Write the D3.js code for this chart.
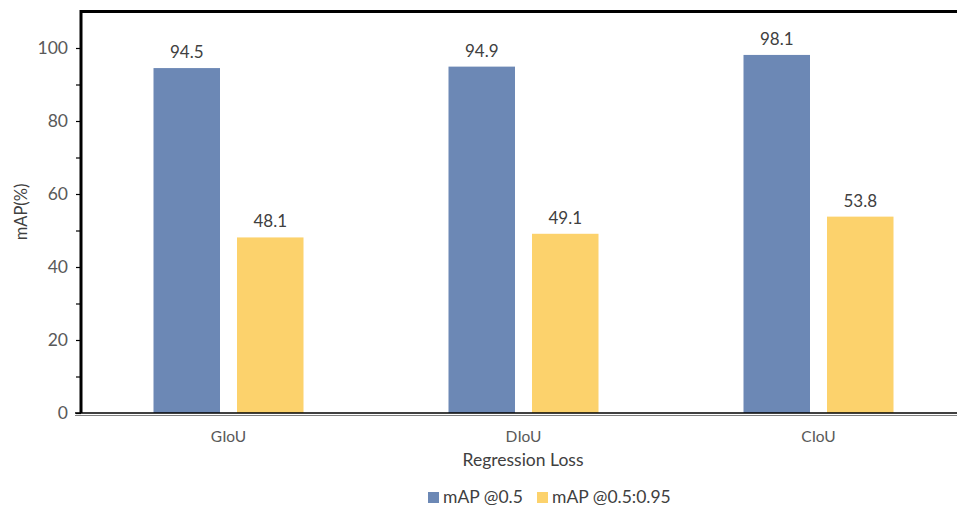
<!DOCTYPE html>
<html>
<head>
<meta charset="utf-8">
<script src="https://cdn.jsdelivr.net/npm/d3@7"></script>
<style>
  html, body { margin: 0; padding: 0; background: #fff; }
  svg { display: block; font-family: Lato, "Open Sans", sans-serif; }
</style>
</head>
<body>
<svg id="chart" width="957" height="506"></svg>
<script>
const categories = ["GIoU", "DIoU", "CIoU"];
const seriesNames = ["mAP @0.5", "mAP @0.5:0.95"];
const map50 = [94.5, 94.9, 98.1];
const map5095 = [48.1, 49.1, 53.8];
const yTicks = [0, 20, 40, 60, 80, 100];
const yMinorTicks = [10, 30, 50, 70, 90];
const colors = ["#6c88b5", "#fcd26c"];

const seriesValues = [map50, map5095];
const svg = d3.select("#chart");

const plotLeft = 81, plotRight = 966, plotTop = 11.5, plotBottom = 413;
const y = d3.scaleLinear().domain([0, 110]).range([plotBottom, plotTop]);
const x0 = d3.scaleBand().domain(categories).range([plotLeft, plotRight]).padding(0);
const bw = x0.bandwidth();
const x1 = d3.scaleBand().domain(seriesNames)
  .range([bw / 2 - 75, bw / 2 + 75]).paddingInner(0.2036).paddingOuter(0);

// bars
const g = svg.append("g");
categories.forEach((c, ci) => {
  seriesNames.forEach((s, si) => {
    const v = seriesValues[si][ci];
    const bx = x0(c) + x1(s);
    g.append("rect")
      .attr("x", bx).attr("y", y(v))
      .attr("width", x1.bandwidth()).attr("height", y(0) - y(v))
      .attr("fill", colors[si]);
    g.append("text")
      .attr("x", bx + x1.bandwidth() / 2).attr("y", y(v) - 10)
      .attr("text-anchor", "middle")
      .attr("font-size", 17).attr("fill", "#404040")
      .text(v.toFixed(1));
  });
});

// top border
svg.append("line").attr("x1", plotLeft).attr("x2", plotRight)
  .attr("y1", y(110)).attr("y2", y(110))
  .attr("stroke", "#000").attr("stroke-width", 3);

// x axis double line
svg.append("line").attr("x1", 75).attr("x2", plotRight)
  .attr("y1", y(0)).attr("y2", y(0))
  .attr("stroke", "#000").attr("stroke-width", 1.5);
svg.append("line").attr("x1", 75).attr("x2", plotRight)
  .attr("y1", y(0) + 2.5).attr("y2", y(0) + 2.5)
  .attr("stroke", "#808080").attr("stroke-width", 1);

// y axis
const yAxis = d3.axisLeft(y).tickValues(yTicks).tickSize(5).tickPadding(8).tickSizeOuter(0);
const ya = svg.append("g").attr("transform", `translate(${plotLeft},0)`).call(yAxis);
ya.select(".domain").attr("stroke", "#000").attr("stroke-width", 3)
  .attr("d", `M0,${y(110) - 1.5}V${y(0)}`);
ya.selectAll(".tick line").attr("stroke", "#000").attr("stroke-width", 1.2);
ya.selectAll(".tick text").attr("font-size", 17.5).attr("fill", "#595959")
  .attr("font-family", "Lato, sans-serif");
const yMinor = d3.axisLeft(y).tickValues(yMinorTicks).tickSize(5).tickFormat("");
const ym = svg.append("g").attr("transform", `translate(${plotLeft},0)`).call(yMinor);
ym.select(".domain").remove();
ym.selectAll(".tick line").attr("stroke", "#000").attr("stroke-width", 1.2);

// x category labels
const xAxis = d3.axisBottom(x0).tickSize(0).tickPadding(0);
const xa = svg.append("g").attr("transform", `translate(0,${plotBottom})`).call(xAxis);
xa.select(".domain").remove();
xa.selectAll(".tick text").attr("font-size", 15.5).attr("fill", "#595959")
  .attr("font-family", "Lato, sans-serif").attr("dy", null).attr("y", 29);

// axis titles
svg.append("text").attr("x", 523).attr("y", 466).attr("text-anchor", "middle")
  .attr("font-size", 17.5).attr("fill", "#404040").text("Regression Loss");
svg.append("text").attr("transform", "translate(27,212) rotate(-90)")
  .attr("text-anchor", "middle").attr("font-size", 16.5).attr("fill", "#404040").text("mAP(%)");

// legend
const legX = [428, 537];
seriesNames.forEach((s, si) => {
  svg.append("rect").attr("x", legX[si]).attr("y", 492).attr("width", 11).attr("height", 11)
    .attr("fill", colors[si]);
  svg.append("text").attr("x", legX[si] + 15).attr("y", 503)
    .attr("font-size", 17.5).attr("fill", "#404040").text(s);
});
</script>
</body>
</html>
